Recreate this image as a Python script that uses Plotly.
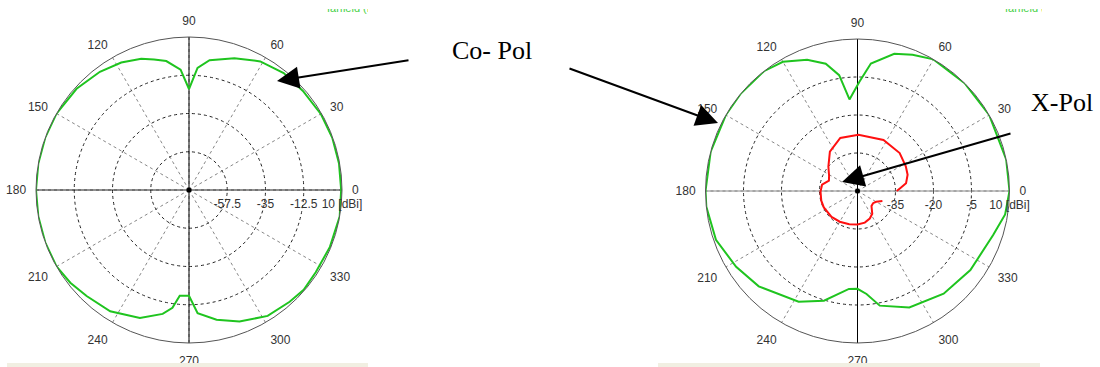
import plotly.graph_objects as go

# Co-pol pattern, left chart (angle in deg, gain in dBi)
left_co_theta = [0, 10, 20, 30, 41, 51, 61, 71, 81, 86, 90, 94, 100, 105, 110, 118, 127, 138,
                 150, 160, 170, 180, 190, 200, 210, 218, 226, 237, 249, 258, 262, 265, 270,
                 274, 282, 291, 302, 312, 319, 327, 338, 350, 360]
left_co_r = [9.5, 9.6, 9.7, 9.5, 8.8, 8.5, 6.5, 2.0, -2.7, -8.0, -20.6, -9.0, -3.0, -0.6, 2.2, 4.9, 7.1, 9.0,
             10, 10, 10, 10, 10, 10, 10, 8.6, 6.7, 5.1, 0.6, -5.5, -10, -17.5, -17.8,
             -7.4, -2.0, 2.9, 7.3, 8.5, 9.4, 8.9, 9.4, 10, 9.5]

# Co-pol pattern, right chart
right_co_theta = [0, 12, 30, 45, 60, 68, 75, 84, 89, 95, 99, 104, 111, 120, 128, 140, 150, 165,
                  180, 186, 199, 212, 224, 242, 253, 265, 270, 275, 281, 294, 310, 325, 342, 351, 360]
right_co_r = [10, 10, 10, 10, 10, 8.0, 6.1, 0.6, -6.9, -13.7, -3.7, 1.8, 5.5, 8.9, 10, 10, 10, 10,
              10, 10, 9.1, 6.5, 4.2, -0.5, -4.7, -11.2, -11.4, -9.2, -3.9, 0.3, 2.9, 4.4, 6.3, 9.0, 10]

# X-pol pattern, right chart
right_x_theta = [0, 4, 9, 18, 27, 42, 63, 89, 108, 125, 140, 152, 160, 170, 181, 195, 206, 225,
                 240, 256, 270, 283, 294, 303, 313, 322, 330, 338]
right_x_r = [-34.5, -33.0, -30.6, -29.2, -28.6, -27.6, -27.4, -27.8, -28.0, -31.0, -35.0, -37.3, -38.0, -35.8,
             -35.4, -35.2, -35.2, -35.5, -36.0, -36.5, -36.8, -37.2, -38.1, -39.3, -41.9, -42.2, -41.5, -39.4]

left_range = [-80, 10]
left_ticks = [-57.5, -35, -12.5, 10]
left_ticktext = ["-57.5", "-35", "-12.5", "10 [dBi]"]
right_range = [-50, 10]
right_ticks = [-35, -20, -5, 10]
right_ticktext = ["-35", "-20", "-5", "10 [dBi]"]
angles = list(range(0, 360, 30))

W, H = 1100, 367
GREEN = "#1fc41f"
tickfont = dict(family="Liberation Sans, Arial", size=12, color="#333")

fig = go.Figure()

def add_chart(sp, rng, hcolor):
    rmin, rmax = rng
    # solid main axes through the centre
    fig.add_trace(go.Scatterpolar(r=[rmax, rmin, rmax], theta=[0, 0, 180], mode="lines",
                                  line=dict(color=hcolor, width=1), subplot=sp, hoverinfo="skip"))
    fig.add_trace(go.Scatterpolar(r=[rmax, rmin, rmax], theta=[90, 90, 270], mode="lines",
                                  line=dict(color="#000", width=1), subplot=sp, hoverinfo="skip"))

add_chart("polar", left_range, "#222")
add_chart("polar2", right_range, "#888")

fig.add_trace(go.Scatterpolar(r=left_co_r, theta=left_co_theta, mode="lines",
                              line=dict(color=GREEN, width=2), subplot="polar"))
fig.add_trace(go.Scatterpolar(r=right_co_r, theta=right_co_theta, mode="lines",
                              line=dict(color=GREEN, width=2), subplot="polar2"))
fig.add_trace(go.Scatterpolar(r=right_x_r, theta=right_x_theta, mode="lines",
                              line=dict(color="#ff1010", width=2), subplot="polar2"))

# centre dots
fig.add_trace(go.Scatterpolar(r=[left_range[0]], theta=[0], mode="markers",
                              marker=dict(color="#000", size=5), subplot="polar"))
fig.add_trace(go.Scatterpolar(r=[right_range[0]], theta=[0], mode="markers",
                              marker=dict(color="#000", size=5), subplot="polar2"))

# clipped "farfield" captions at the top edge
fig.add_trace(go.Scatter(x=[327], y=[15], text=["farfield (f=2.45) [1]"], mode="text",
                         textposition="top right", cliponaxis=True,
                         textfont=dict(family="Liberation Sans", size=11, color="#44d044"),
                         xaxis="x", yaxis="y"))
fig.add_trace(go.Scatter(x=[1005], y=[15], text=["farfield (f=2.45) [1]"], mode="text",
                         textposition="top right", cliponaxis=True,
                         textfont=dict(family="Liberation Sans", size=11, color="#44d044"),
                         xaxis="x2", yaxis="y2"))

def polar_layout(cx, cy, rad, rng, tv, tt):
    return dict(
        domain=dict(x=[(cx - rad) / W, (cx + rad) / W], y=[1 - (cy + rad) / H, 1 - (cy - rad) / H]),
        bgcolor="white",
        radialaxis=dict(range=rng, tickmode="array", tickvals=tv, ticktext=tt, angle=0,
                        showline=False, ticks="outside", ticklen=3, tickcolor="rgba(0,0,0,0)",
                        gridcolor="#222", griddash="3px,3px",
                        gridwidth=1, tickfont=tickfont),
        angularaxis=dict(rotation=0, direction="counterclockwise", tickmode="array",
                         tickvals=angles, ticktext=[str(a) for a in angles],
                         showline=True, linecolor="#555", linewidth=1,
                         ticks="outside", ticklen=7, tickcolor="rgba(0,0,0,0)",
                         gridcolor="#888", griddash="3px,3px", gridwidth=1, tickfont=tickfont),
    )

fig.update_layout(
    width=W, height=H,
    margin=dict(l=0, r=0, t=0, b=0),
    paper_bgcolor="white", plot_bgcolor="rgba(0,0,0,0)",
    showlegend=False,
    polar=polar_layout(189, 190, 153, left_range, left_ticks, left_ticktext),
    polar2=polar_layout(857.5, 191, 152, right_range, right_ticks, right_ticktext),
    xaxis=dict(domain=[0, 368 / W], range=[0, 368], visible=False),
    yaxis=dict(domain=[0, 1 - 9 / H], range=[367, 9], visible=False),
    xaxis2=dict(domain=[658 / W, 1042 / W], range=[658, 1042], visible=False),
    yaxis2=dict(domain=[0, 1 - 9 / H], range=[367, 9], visible=False),
)

# beige strips at the bottom
for x0, x1 in [(7, 368), (658, 1040)]:
    fig.add_shape(type="rect", xref="paper", yref="paper", x0=x0 / W, x1=x1 / W, y0=0, y1=4 / H,
                  fillcolor="#f1efe2", line_width=0, layer="above")

# labels and arrows
serif = dict(family="Liberation Serif, Times New Roman", size=26, color="#000")
fig.add_annotation(text="Co- Pol", x=492 / W, y=1 - 50 / H, xref="paper", yref="paper",
                   xanchor="center", yanchor="middle", showarrow=False, font=serif)
fig.add_annotation(text="X-Pol", x=1062 / W, y=1 - 102 / H, xref="paper", yref="paper",
                   xanchor="center", yanchor="middle", showarrow=False, font=serif)
for tip, tail in [((277, 81), (410, 60)), ((718, 123), (568, 68)), ((842, 182), (1012, 133))]:
    fig.add_annotation(text="", x=tip[0] / W, y=1 - tip[1] / H, xref="paper", yref="paper",
                       ax=tail[0] - tip[0], ay=tail[1] - tip[1], showarrow=True,
                       arrowhead=2, arrowsize=2.2, arrowwidth=2, arrowcolor="#000")

fig.write_html("out.html", config={"displayModeBar": False},
               post_script="document.body.style.margin='0';")
